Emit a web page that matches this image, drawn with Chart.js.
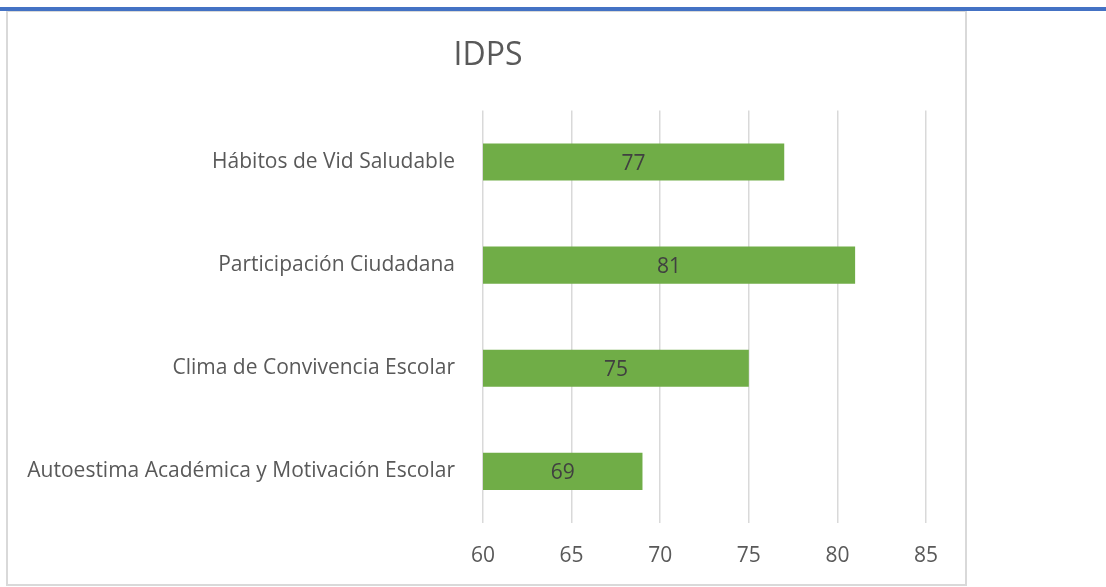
<!DOCTYPE html>
<html>
<head>
<meta charset="utf-8">
<script src="https://cdn.jsdelivr.net/npm/chart.js@4/dist/chart.umd.min.js"></script>
<style>
  html, body { margin: 0; padding: 0; background: #fff; }
  #wrap { position: relative; width: 1106px; height: 587px; overflow: hidden; }
  #topline { position: absolute; left: 0; top: 7px; width: 1106px; height: 4px; background: #4472c4; }
  #frame { position: absolute; left: 6px; top: 11px; width: 957px; height: 572px; border: 2px solid #d9d9d9; border-top-width: 1px; }
  #chart { position: absolute; left: 0; top: 0; }
</style>
</head>
<body>
<div id="wrap">
  <div id="topline"></div>
  <div id="frame"></div>
  <canvas id="chart" width="1106" height="587"></canvas>
</div>
<script>
// IDPS indicators, listed top to bottom
var categories = [
    'Hábitos de Vid Saludable',
    'Participación Ciudadana',
    'Clima de Convivencia Escolar',
    'Autoestima Académica y Motivación Escolar'
];
var scores = [77, 81, 75, 69];
var axisTicks = [60, 65, 70, 75, 80, 85];

var FONT = "'Open Sans', 'DejaVu Sans', sans-serif";

// writes each bar's value in the middle of the bar
var barValues = {
    id: 'barValues',
    afterDatasetsDraw: function (chart) {
        var ctx = chart.ctx;
        var meta = chart.getDatasetMeta(0);
        var start = chart.scales.x.left;
        ctx.save();
        ctx.font = '21px ' + FONT;
        ctx.fillStyle = '#404040';
        ctx.textAlign = 'center';
        ctx.textBaseline = 'middle';
        for (var i = 0; i < meta.data.length; i++) {
            var bar = meta.data[i];
            ctx.fillText(String(scores[i]), (bar.x + start) / 2, bar.y + 2);
        }
        ctx.restore();
    }
};

var ctx = document.getElementById('chart');
var myChart = new Chart(ctx, {
    type: 'bar',
    data: {
        labels: categories,
        datasets: [{
            label: 'IDPS',
            data: scores,
            backgroundColor: '#70ad47',
            borderWidth: 0,
            categoryPercentage: 1,
            barPercentage: 0.36
        }]
    },
    options: {
        indexAxis: 'y',
        responsive: false,
        animation: false,
        layout: { padding: { top: 0, right: 130, bottom: 0, left: 0 } },
        plugins: {
            legend: { display: false },
            tooltip: { enabled: false },
            title: {
                display: true,
                text: 'IDPS',
                color: '#595959',
                font: { family: FONT, size: 32, weight: 'normal' },
                padding: { top: 37, bottom: 35 }
            }
        },
        scales: {
            x: {
                min: 60,
                max: 85,
                afterBuildTicks: function (axis) {
                    axis.ticks = axisTicks.map(function (v) { return { value: v }; });
                },
                afterFit: function (axis) { axis.height = 64; },
                border: { display: false },
                grid: { color: '#d9d9d9', lineWidth: 1.5, drawTicks: false },
                ticks: {
                    color: '#595959',
                    padding: 20,
                    font: { family: FONT, size: 21 }
                }
            },
            y: {
                afterFit: function (axis) { axis.width = 483; },
                border: { display: false },
                grid: { display: false },
                ticks: {
                    color: '#595959',
                    padding: 20,
                    font: { family: FONT, size: 21 }
                }
            },
            // empty strip on the right so the title sits over the whole frame
            side: {
                type: 'category',
                position: 'right',
                labels: [''],
                afterFit: function (axis) { axis.width = 50; },
                border: { display: false },
                grid: { display: false },
                ticks: { display: false }
            }
        }
    },
    plugins: [barValues]
});
</script>
</body>
</html>
